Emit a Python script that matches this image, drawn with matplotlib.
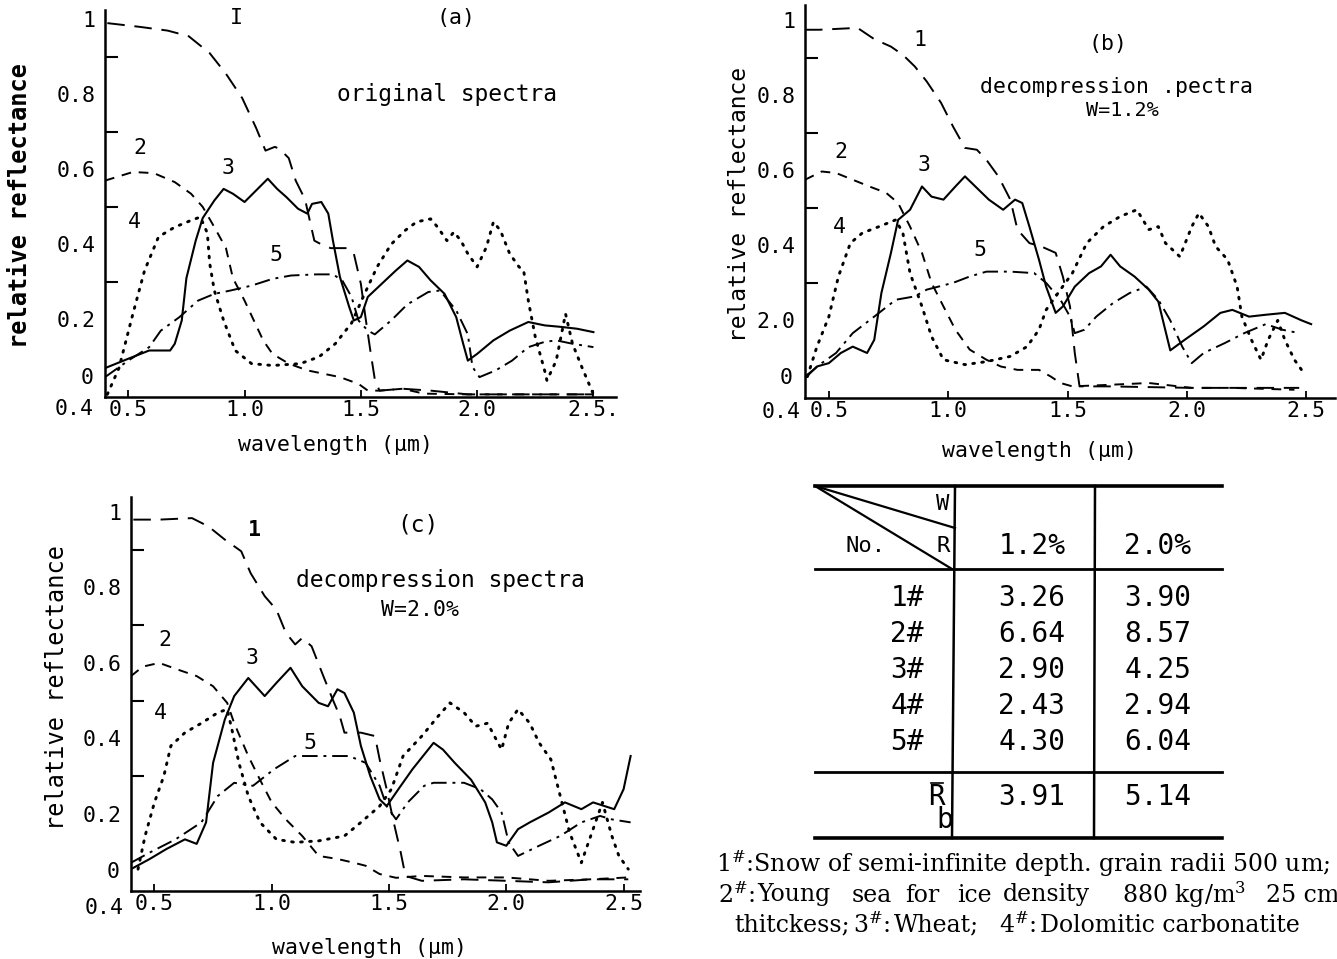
import numpy as np
import matplotlib
matplotlib.use("Agg")
import matplotlib.pyplot as plt

# ---------------- data ----------------
# panel (a) original spectra
a_x1 = [0.41,0.55,0.67,0.76,0.85,0.92,0.99,1.05,1.09,1.13,1.15,1.19,1.22,1.26,1.30,1.33,1.37,1.44,1.47,1.50,1.52,1.54,1.56,1.58,1.68,1.80,1.96,2.2,2.5]
a_y1 = [0.99,0.98,0.97,0.955,0.91,0.855,0.79,0.71,0.65,0.66,0.655,0.63,0.57,0.52,0.41,0.40,0.39,0.39,0.375,0.295,0.205,0.12,0.04,0.01,0.015,0.01,0.0,0.0,0.0]
a_x2 = [0.40,0.52,0.61,0.70,0.77,0.82,0.87,0.92,0.95,1.00,1.04,1.08,1.12,1.19,1.27,1.34,1.41,1.49,1.53,1.58,1.68,1.77,1.96,2.3,2.5]
a_y2 = [0.57,0.593,0.59,0.566,0.535,0.50,0.446,0.39,0.31,0.25,0.197,0.144,0.108,0.082,0.064,0.055,0.046,0.028,0.01,0.01,0.015,0.002,0.0,0.0,0.0]
a_x3 = [0.40,0.50,0.59,0.68,0.70,0.73,0.75,0.79,0.82,0.87,0.91,0.95,1.00,1.05,1.10,1.14,1.18,1.23,1.27,1.29,1.33,1.36,1.38,1.41,1.45,1.47,1.50,1.53,1.59,1.65,1.70,1.75,1.80,1.86,1.91,1.94,1.96,2.00,2.07,2.14,2.22,2.29,2.36,2.43,2.50]
a_y3 = [0.07,0.095,0.117,0.117,0.135,0.197,0.31,0.41,0.47,0.517,0.548,0.535,0.513,0.544,0.575,0.548,0.526,0.495,0.482,0.508,0.513,0.482,0.41,0.313,0.233,0.197,0.206,0.26,0.295,0.33,0.357,0.34,0.304,0.268,0.206,0.135,0.09,0.108,0.144,0.17,0.193,0.184,0.18,0.175,0.166]
a_x4 = [0.41,0.46,0.52,0.57,0.63,0.70,0.77,0.81,0.84,0.85,0.87,0.91,0.96,1.03,1.12,1.24,1.32,1.39,1.46,1.51,1.57,1.63,1.69,1.74,1.80,1.83,1.87,1.90,1.93,1.96,2.00,2.04,2.07,2.10,2.14,2.18,2.20,2.22,2.25,2.29,2.30,2.34,2.38,2.41,2.45,2.50]
a_y4 = [0.0,0.07,0.215,0.33,0.42,0.446,0.464,0.473,0.43,0.35,0.277,0.197,0.117,0.082,0.077,0.082,0.10,0.135,0.19,0.26,0.34,0.40,0.437,0.46,0.468,0.446,0.41,0.433,0.41,0.375,0.34,0.393,0.46,0.437,0.375,0.34,0.33,0.25,0.153,0.064,0.037,0.09,0.215,0.135,0.073,0.0]
a_x5 = [0.40,0.50,0.59,0.64,0.72,0.80,0.87,0.94,1.03,1.12,1.20,1.31,1.38,1.42,1.46,1.49,1.53,1.56,1.63,1.70,1.79,1.84,1.91,1.96,1.98,2.01,2.08,2.15,2.22,2.29,2.34,2.41,2.50]
a_y5 = [0.046,0.09,0.126,0.17,0.206,0.25,0.268,0.277,0.29,0.308,0.317,0.32,0.32,0.304,0.26,0.197,0.17,0.16,0.197,0.24,0.273,0.277,0.224,0.16,0.073,0.046,0.064,0.09,0.126,0.14,0.144,0.135,0.126]

# panel (b) decompression spectra W=1.2%
b_x1 = [0.40,0.46,0.62,0.69,0.76,0.81,0.86,0.91,0.97,1.02,1.07,1.12,1.16,1.21,1.26,1.29,1.34,1.39,1.45,1.48,1.51,1.53,1.55,1.60,1.67,2.02,2.19,2.47]
b_y1 = [0.975,0.975,0.98,0.95,0.93,0.908,0.877,0.837,0.78,0.717,0.66,0.655,0.628,0.584,0.522,0.442,0.406,0.397,0.38,0.317,0.237,0.113,0.024,0.024,0.024,0.02,0.02,0.02]
b_x2 = [0.40,0.47,0.53,0.60,0.67,0.74,0.79,0.84,0.89,0.93,0.98,1.03,1.09,1.16,1.22,1.29,1.38,1.43,1.47,1.52,1.67,1.84,2.02,2.19,2.45]
b_y2 = [0.575,0.597,0.593,0.575,0.557,0.54,0.513,0.45,0.38,0.30,0.237,0.175,0.122,0.095,0.077,0.068,0.068,0.05,0.033,0.024,0.028,0.033,0.02,0.02,0.015]
b_x3 = [0.40,0.45,0.50,0.55,0.60,0.66,0.69,0.72,0.76,0.79,0.84,0.89,0.93,0.98,1.03,1.07,1.12,1.17,1.23,1.28,1.31,1.34,1.38,1.41,1.45,1.48,1.53,1.59,1.64,1.68,1.72,1.78,1.84,1.88,1.93,1.99,2.07,2.14,2.19,2.26,2.33,2.41,2.48,2.52]
b_y3 = [0.046,0.077,0.086,0.113,0.13,0.113,0.148,0.273,0.38,0.468,0.495,0.557,0.53,0.522,0.557,0.584,0.553,0.522,0.495,0.522,0.513,0.45,0.362,0.29,0.22,0.237,0.29,0.326,0.344,0.375,0.344,0.317,0.282,0.25,0.12,0.148,0.184,0.22,0.228,0.21,0.215,0.22,0.20,0.19]
b_x4 = [0.41,0.45,0.50,0.54,0.59,0.64,0.71,0.78,0.81,0.84,0.89,0.93,0.98,1.07,1.16,1.26,1.33,1.38,1.41,1.47,1.52,1.58,1.65,1.72,1.79,1.84,1.88,1.91,1.97,2.02,2.05,2.09,2.12,2.17,2.21,2.23,2.27,2.31,2.34,2.38,2.41,2.45,2.48]
b_y4 = [0.05,0.13,0.21,0.317,0.406,0.433,0.45,0.468,0.433,0.326,0.237,0.157,0.095,0.082,0.09,0.104,0.13,0.175,0.228,0.282,0.326,0.406,0.45,0.477,0.495,0.442,0.45,0.406,0.37,0.45,0.486,0.45,0.397,0.362,0.29,0.21,0.148,0.095,0.148,0.20,0.148,0.095,0.068]
b_x5 = [0.40,0.47,0.53,0.60,0.69,0.78,0.86,0.91,1.02,1.09,1.16,1.26,1.36,1.41,1.47,1.51,1.53,1.57,1.62,1.69,1.76,1.83,1.88,1.93,1.98,2.02,2.07,2.16,2.24,2.33,2.40,2.47]
b_y5 = [0.05,0.086,0.113,0.166,0.21,0.255,0.264,0.282,0.30,0.317,0.33,0.33,0.326,0.30,0.255,0.21,0.166,0.175,0.21,0.246,0.273,0.29,0.255,0.20,0.13,0.086,0.113,0.14,0.166,0.19,0.175,0.166]

# panel (c) decompression spectra W=2.0%
c_x1 = [0.41,0.52,0.66,0.73,0.80,0.87,0.91,0.97,1.02,1.06,1.10,1.13,1.17,1.22,1.26,1.29,1.31,1.38,1.44,1.46,1.49,1.52,1.55,1.57,1.64,1.82,2.00,2.18,2.36,2.52]
c_y1 = [0.98,0.98,0.984,0.962,0.927,0.896,0.838,0.777,0.741,0.68,0.649,0.666,0.644,0.565,0.503,0.459,0.415,0.415,0.406,0.344,0.265,0.177,0.097,0.035,0.022,0.026,0.022,0.018,0.026,0.026]
c_x2 = [0.40,0.45,0.52,0.61,0.68,0.75,0.81,0.84,0.90,0.95,1.00,1.06,1.13,1.20,1.28,1.35,1.40,1.46,1.53,1.64,1.82,2.00,2.18,2.36,2.52]
c_y2 = [0.565,0.59,0.60,0.58,0.565,0.538,0.494,0.44,0.353,0.29,0.23,0.185,0.141,0.088,0.08,0.07,0.062,0.04,0.03,0.035,0.031,0.031,0.022,0.026,0.031]
c_x3 = [0.40,0.48,0.55,0.63,0.68,0.72,0.75,0.80,0.84,0.90,0.97,1.02,1.08,1.13,1.20,1.24,1.28,1.31,1.35,1.38,1.42,1.46,1.49,1.54,1.60,1.69,1.73,1.78,1.85,1.91,1.94,1.96,2.00,2.05,2.10,2.18,2.25,2.32,2.37,2.46,2.50,2.53]
c_y3 = [0.053,0.08,0.106,0.132,0.12,0.177,0.335,0.45,0.512,0.56,0.512,0.547,0.587,0.538,0.494,0.485,0.53,0.52,0.468,0.38,0.30,0.238,0.22,0.265,0.318,0.388,0.37,0.335,0.29,0.23,0.177,0.124,0.115,0.159,0.177,0.203,0.23,0.212,0.23,0.212,0.265,0.353]
c_x4 = [0.43,0.46,0.50,0.54,0.57,0.63,0.70,0.77,0.81,0.83,0.86,0.90,0.95,1.02,1.10,1.20,1.31,1.38,1.46,1.51,1.56,1.64,1.71,1.76,1.82,1.87,1.92,1.98,2.01,2.05,2.10,2.14,2.19,2.23,2.27,2.32,2.37,2.41,2.45,2.48,2.52]
c_y4 = [0.053,0.141,0.23,0.30,0.38,0.415,0.44,0.468,0.477,0.424,0.335,0.247,0.177,0.132,0.124,0.128,0.141,0.177,0.22,0.265,0.353,0.406,0.459,0.494,0.468,0.432,0.44,0.37,0.44,0.477,0.44,0.388,0.344,0.247,0.15,0.07,0.159,0.23,0.141,0.088,0.053]
c_x5 = [0.40,0.48,0.59,0.70,0.77,0.84,0.92,1.01,1.10,1.20,1.33,1.40,1.46,1.49,1.53,1.58,1.65,1.69,1.82,1.89,1.94,1.98,2.01,2.05,2.14,2.23,2.32,2.40,2.45,2.53]
c_y5 = [0.07,0.097,0.132,0.177,0.247,0.282,0.274,0.318,0.353,0.353,0.353,0.335,0.274,0.22,0.185,0.23,0.274,0.282,0.282,0.265,0.238,0.203,0.124,0.088,0.115,0.141,0.177,0.194,0.185,0.177]

y_ticks = [0.2, 0.4, 0.6, 0.8, 1.0]
y_labels_ac = ["0.2", "0.4", "0.6", "0.8", "1"]
y_labels_b = ["2.0", "0.4", "0.6", "0.8", "1"]
x_ticks = [0.5, 1.0, 1.5, 2.0, 2.5]
x_labels_a = ["0.5", "1.0", "1.5", "2.0", "2.5."]
x_labels_bc = ["0.5", "1.0", "1.5", "2.0", "2.5"]

tbl_cols = ["1.2%", "2.0%"]
tbl_rows = ["1#", "2#", "3#", "4#", "5#"]
tbl_w12 = ["3.26", "6.64", "2.90", "2.43", "4.30"]
tbl_w20 = ["3.90", "8.57", "4.25", "2.94", "6.04"]
tbl_mean = ["3.91", "5.14"]

# ---------------- drawing ----------------
W, H = 1337, 959
MONO = "DejaVu Sans Mono"
plt.rcParams["mathtext.fontset"] = "dejavuserif"
fig = plt.figure(figsize=(W / 100, H / 100), dpi=100)
fig.patch.set_facecolor("white")

styles = {
    1: dict(linestyle=(0, (9, 5)), lw=1.4),
    2: dict(linestyle=(0, (5, 4)), lw=1.4),
    3: dict(linestyle="-", lw=1.5),
    4: dict(linestyle=(0, (0.6, 2.5)), lw=2.1, dash_capstyle="round"),
    5: dict(linestyle=(0, (8, 3, 1.5, 3)), lw=1.4),
}


def make_axes(l, t, r, b, xmax, ybot, ytop, ylabels, xlabels):
    ax = fig.add_axes([l / W, 1 - b / H, (r - l) / W, (b - t) / H])
    ax.set_xlim(0.4, xmax)
    ax.set_ylim(ybot, ytop)
    ax.patch.set_alpha(0)
    for s in ("top", "right"):
        ax.spines[s].set_visible(False)
    for s in ("left", "bottom"):
        ax.spines[s].set_linewidth(1.8)
    ax.set_yticks(y_ticks)
    ax.set_yticklabels(ylabels, fontfamily=MONO, fontsize=15.5)
    ax.set_yticks([0.3, 0.5, 0.7, 0.9], minor=True)
    ax.tick_params(axis="y", which="major", length=0, pad=7)
    ax.tick_params(axis="y", which="minor", direction="in", length=9, width=1.5)
    ax.set_xticks(x_ticks)
    ax.set_xticklabels(xlabels, fontfamily=MONO, fontsize=15.5)
    ax.tick_params(axis="x", which="major", direction="in", length=5, width=1.3, pad=2)
    # the zero label sits a little above the baseline
    ax.text(-0.035, 0.045, "0", transform=ax.get_yaxis_transform(), ha="center", va="center",
            fontfamily=MONO, fontsize=15.5)
    return ax


def draw(ax, xs, ys):
    for i, (x, y) in enumerate(zip(xs, ys), start=1):
        ax.plot(x, y, color="black", **styles[i])


# (a)
axa = make_axes(105, 10, 616, 397, 2.597, -0.007, 1.025, y_labels_ac, x_labels_a)
draw(axa, [a_x1, a_x2, a_x3, a_x4, a_x5], [a_y1, a_y2, a_y3, a_y4, a_y5])
# (b)
axb = make_axes(805, 5, 1335, 398, 2.62, -0.007, 1.041, y_labels_b, x_labels_bc)
draw(axb, [b_x1, b_x2, b_x3, b_x4, b_x5], [b_y1, b_y2, b_y3, b_y4, b_y5])
# (c)
axc = make_axes(131, 497, 640, 891, 2.57, -0.005, 1.04, y_labels_ac, x_labels_bc)
draw(axc, [c_x1, c_x2, c_x3, c_x4, c_x5], [c_y1, c_y2, c_y3, c_y4, c_y5])

# overlay in pixel coordinates
ov = fig.add_axes([0, 0, 1, 1])
ov.set_xlim(0, W)
ov.set_ylim(H, 0)
ov.axis("off")
ov.patch.set_alpha(0)


def T(x, y, s, size=15, ha="center", va="center", family=MONO, **kw):
    ov.text(x, y, s, fontsize=size, ha=ha, va=va, fontfamily=family, **kw)


# extra 0.4 tick labels
T(74, 409, "0.4", 15.5)
T(781, 412, "0.4", 15.5)
T(104, 908, "0.4", 15.5)

# axis labels
T(335, 445, "wavelength (\u03bcm)", 15.5)
T(1039, 451, "wavelength (\u03bcm)", 15.5)
T(370, 948, "wavelength (\u03bcm)", 15.5)
T(20, 205, "relative reflectance", 17, rotation=90, fontweight="bold")
T(740, 205, "relative reflectance", 16.5, rotation=90)
T(57, 687, "relative reflectance", 17, rotation=90)

# panel titles
T(456, 18, "(a)", 15.5)
T(447, 95, "original spectra", 16.5)
T(1108, 44, "(b)", 15.5)
T(1116, 87, "decompression .pectra", 15.5)
T(1122, 111, "W=1.2%", 14.5)
T(418, 525, "(c)", 16.5)
T(440, 581, "decompression spectra", 16.5)
T(420, 610, "W=2.0%", 15.5)

# curve numbers
for (x, y, s) in [(236, 18, "I"), (140, 148, "2"), (228, 168, "3"), (134, 222, "4"), (276, 255, "5"),
                  (920, 40, "1"), (841, 152, "2"), (924, 165, "3"), (839, 227, "4"), (980, 250, "5"),
                  (255, 530, "1"), (165, 640, "2"), (252, 658, "3"), (160, 713, "4"), (310, 743, "5")]:
    T(x, y, s, 15.5, fontweight="bold" if (s == "1" and y > 500) else "normal")

# table
xl, xv1, xv2, xr = 815, 955, 1095, 1222
yt, yh, ym, yb = 486, 569, 772, 838
ov.plot([xl, xr], [yt, yt], color="black", lw=2.6)
ov.plot([xl, xr], [yh, yh], color="black", lw=2.0)
ov.plot([xl, xr], [ym, ym], color="black", lw=2.0)
ov.plot([xl, xr], [yb, yb], color="black", lw=2.6)
ov.plot([xv1, xv1 - 3], [yt, yb], color="black", lw=1.8)
ov.plot([xv2, xv2 - 1], [yt, yb], color="black", lw=1.8)
ov.plot([xl, xv1], [yt, 528], color="black", lw=1.6)
ov.plot([xl, xv1 - 3], [yt, yh], color="black", lw=1.6)
T(943, 504, "W", 16)
T(943, 546, "R", 16)
T(866, 546, "No.", 16)
T(1032, 546, tbl_cols[0], 20)
T(1158, 546, tbl_cols[1], 20)
row_y = [598, 634, 670, 706, 742]
for yy, lab, v1, v2 in zip(row_y, tbl_rows, tbl_w12, tbl_w20):
    T(924, yy, lab, 20, ha="right")
    T(1032, yy, v1, 20)
    T(1158, yy, v2, 20)
T(937, 797, "R", 20)
ov.plot([931, 943], [783, 783], color="black", lw=1.2)
T(945, 820, "b", 20)
T(1032, 797, tbl_mean[0], 20)
T(1158, 797, tbl_mean[1], 20)

# footnote
SER = "DejaVu Serif"
FS = 17
T(716, 864, r"1$^{\#}$:Snow of semi-infinite depth. grain radii 500 um;", FS, ha="left", family=SER)
for x, s in [(718, r"2$^{\#}$:"), (757, "Young"), (852, "sea"), (905, "for"), (957, "ice"),
             (1003, "density"), (1122, r"880 kg/m$^3$"), (1266, "25 cm")]:
    T(x, 895, s, FS, ha="left", family=SER)
for x, s in [(734, "thitckess;"), (853, r"3$^{\#}$:"), (894, "Wheat;"), (999, r"4$^{\#}$:"),
             (1040, "Dolomitic carbonatite")]:
    T(x, 925, s, FS, ha="left", family=SER)

fig.savefig("out.png", dpi=100)
